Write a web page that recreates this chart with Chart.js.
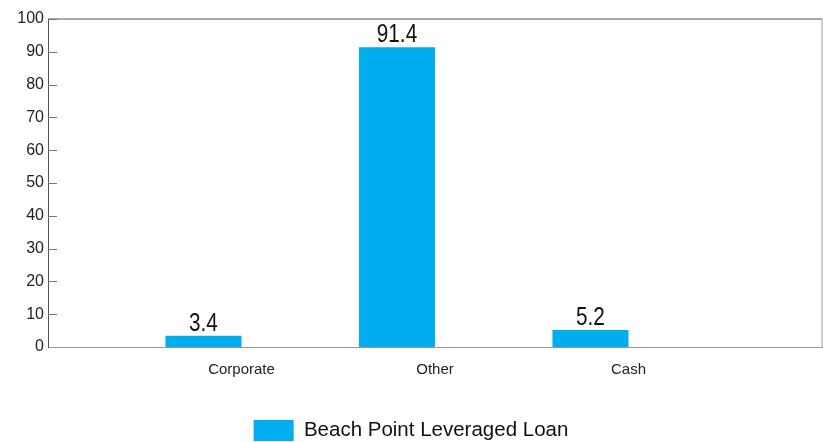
<!DOCTYPE html>
<html>
<head>
<meta charset="utf-8">
<script src="https://cdn.jsdelivr.net/npm/chart.js@4.4.1/dist/chart.umd.min.js"></script>
<style>
  html, body { margin: 0; padding: 0; background: #fff; }
  #wrap { width: 823px; height: 442px; }
</style>
</head>
<body>
<div id="wrap"><canvas id="barChart"></canvas></div>
<script>
// data
const categories = ['Corporate', 'Other', 'Cash'];
const loanValues = [3.4, 91.4, 5.2];
const yTicks = [0, 10, 20, 30, 40, 50, 60, 70, 80, 90, 100];
const seriesName = 'Beach Point Leveraged Loan';

const sans = "'Liberation Sans', Arial, sans-serif";

// blank slot each side so the labels sit on grid positions (offset: false)
const labels = [''].concat(categories, ['']);
const barData = [null].concat(loanValues, [null]);
const ghostData = labels.map(() => null);

// value above each bar, squeezed a bit to look like the narrow face
const valueLabels = {
  id: 'valueLabels',
  afterDatasetsDraw(chart) {
    const ctx = chart.ctx;
    const meta = chart.getDatasetMeta(0);
    meta.data.forEach((bar, i) => {
      const v = barData[i];
      if (v == null) return;
      ctx.save();
      ctx.translate(bar.x, bar.y - 5);
      ctx.scale(0.83, 1);
      ctx.font = '25px ' + sans;
      ctx.fillStyle = '#111';
      ctx.textAlign = 'center';
      ctx.textBaseline = 'alphabetic';
      ctx.fillText(v.toFixed(1), 0, 0);
      ctx.restore();
    });
  }
};

// top/right frame and the little inward y tick marks
const frame = {
  id: 'frame',
  afterDraw(chart) {
    const ctx = chart.ctx;
    const a = chart.chartArea;
    const y = chart.scales.y;
    ctx.save();
    ctx.lineWidth = 1;
    ctx.strokeStyle = '#555';
    ctx.beginPath();
    ctx.moveTo(a.left, a.top);
    ctx.lineTo(a.right, a.top);
    ctx.stroke();
    ctx.strokeStyle = '#999';
    ctx.beginPath();
    ctx.moveTo(a.right, a.top);
    ctx.lineTo(a.right, a.bottom);
    ctx.stroke();
    ctx.strokeStyle = '#777';
    y.ticks.forEach((t, i) => {
      if (i === 0) return;
      const py = Math.round(y.getPixelForTick(i)) + 0.5;
      ctx.beginPath();
      ctx.moveTo(a.left, py);
      ctx.lineTo(a.left + 9, py);
      ctx.stroke();
    });
    ctx.restore();
  }
};

new Chart(document.getElementById('barChart'), {
  type: 'bar',
  data: {
    labels: labels,
    datasets: [{
      label: seriesName,
      data: barData,
      backgroundColor: '#00AEEF',
      borderWidth: 0,
      barPercentage: 1,
      categoryPercentage: 0.786
    }, {
      label: '',
      data: ghostData,
      backgroundColor: 'rgba(0,0,0,0)',
      barPercentage: 1,
      categoryPercentage: 0.786
    }]
  },
  options: {
    responsive: true,
    maintainAspectRatio: false,
    animation: false,
    layout: { padding: { top: 19, right: 1, bottom: -9, left: 0 } },
    scales: {
      x: {
        offset: false,
        grid: { display: false, drawTicks: false },
        border: { display: true, color: '#999' },
        ticks: { color: '#222', font: { family: sans, size: 15 }, padding: 14, maxRotation: 0, autoSkip: false },
        afterFit: s => { s.height = 63; s.paddingLeft = 0; s.paddingRight = 0; }
      },
      y: {
        min: 0,
        max: 100,
        afterBuildTicks: s => { s.ticks = yTicks.map(v => ({ value: v })); },
        grid: { display: false, drawTicks: false },
        border: { display: true, color: '#555' },
        ticks: { color: '#222', font: { family: sans, size: 16 }, padding: 4 },
        afterFit: s => { s.width = 48; }
      }
    },
    plugins: {
      legend: {
        position: 'bottom',
        labels: {
          boxWidth: 40,
          boxHeight: 21,
          color: '#111',
          font: { family: sans, size: 20.5 },
          padding: 10,
          filter: item => item.datasetIndex === 0
        }
      },
      tooltip: { enabled: false }
    }
  },
  plugins: [valueLabels, frame]
});
</script>
</body>
</html>
